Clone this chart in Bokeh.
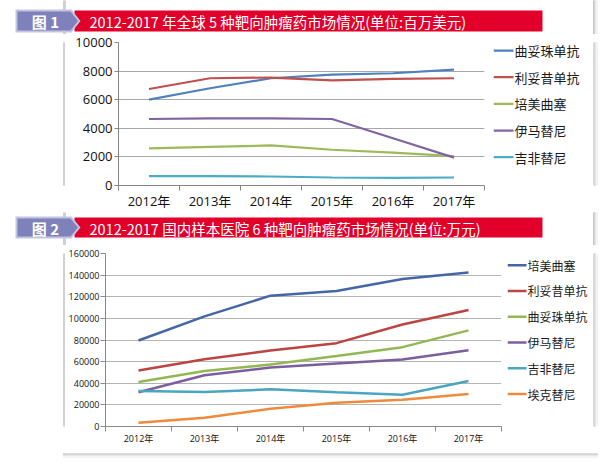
from bokeh.plotting import figure
from bokeh.layouts import column, row
from bokeh.models import Range1d, FixedTicker, NumeralTickFormatter
from bokeh.core.properties import value
from bokeh.embed import file_html
from bokeh.resources import INLINE

# ---------------- data ----------------
years = ["2012年", "2013年", "2014年", "2015年", "2016年", "2017年"]

title1 = "2012-2017 年全球 5 种靶向肿瘤药市场情况(单位:百万美元)"
title2 = "2012-2017 国内样本医院 6 种靶向肿瘤药市场情况(单位:万元)"
badge1 = "图 1"
badge2 = "图 2"

names1 = ["曲妥珠单抗", "利妥昔单抗", "培美曲塞", "伊马替尼", "吉非替尼"]
trastuzumab_1 = [6000, 6800, 7500, 7750, 7850, 8100]
rituximab_1 = [6750, 7500, 7550, 7350, 7450, 7500]
pemetrexed_1 = [2600, 2700, 2800, 2500, 2300, 2050]
imatinib_1 = [4650, 4700, 4700, 4650, 3300, 1950]
gefitinib_1 = [650, 650, 630, 560, 535, 560]
series1 = [trastuzumab_1, rituximab_1, pemetrexed_1, imatinib_1, gefitinib_1]
colors1 = ["#4F81BD", "#C0504D", "#9BBB59", "#8064A2", "#4BACC6"]
y1_ticks = [0, 2000, 4000, 6000, 8000, 10000]

names2 = ["培美曲塞", "利妥昔单抗", "曲妥珠单抗", "伊马替尼", "吉非替尼", "埃克替尼"]
pemetrexed_2 = [79500, 101800, 121000, 125400, 136500, 142400]
rituximab_2 = [51700, 62200, 70300, 77100, 94400, 107700]
trastuzumab_2 = [41200, 51400, 57300, 65300, 73400, 88900]
imatinib_2 = [31600, 47400, 54500, 58200, 61900, 70600]
gefitinib_2 = [32800, 31900, 34400, 31600, 29400, 42100]
icotinib_2 = [3400, 8000, 16400, 22000, 24800, 30000]
series2 = [pemetrexed_2, rituximab_2, trastuzumab_2, imatinib_2, gefitinib_2, icotinib_2]
colors2 = ["#4466A8", "#BA4542", "#93B853", "#7C5E9E", "#4AA5BE", "#EE8A3C"]
y2_ticks = [0, 20000, 40000, 60000, 80000, 100000, 120000, 140000, 160000]

FONT = "Open Sans, Noto Sans CJK SC"
CJK = "Noto Sans CJK SC"
W = 600
EDGE = "#D0D0D0"
SHADOW = ["#C4C4C4", "#D8D8D8", "#E6E6E6", "#F3F3F3"]


def blank(w, h):
    p = figure(width=w, height=h, x_range=Range1d(0, w), y_range=Range1d(h, 0),
               toolbar_location=None, output_backend="svg", min_border=0,
               x_axis_location=None, y_axis_location=None)
    p.outline_line_color = None
    p.grid.visible = False
    return p


def banner(h, top, bot, badge, text):
    p = blank(W, h)
    # panel left edge and right border/shadow
    p.quad(left=63, right=65, top=0, bottom=h, color=EDGE)
    for i, c in enumerate(SHADOW):
        p.quad(left=593 + i, right=594 + i, top=0, bottom=h, color=c)
    # red bar
    p.quad(left=74, right=542, top=top + 1, bottom=bot - 1, color="#E2002B", line_color=None)
    # badge (outer light bevel + inner body)
    mid = (top + bot) / 2
    p.patch(x=[15, 71, 80, 71, 15], y=[top, top, mid, bot, bot], color="#C3C3E2", line_color=None)
    p.patch(x=[17, 70, 77.5, 70, 17], y=[top + 2, top + 2, mid, bot - 2, bot - 2],
            color="#7F81BA", line_color=None)
    p.text(x=[45], y=[mid + 0.5], text=[badge], text_font=value(CJK), text_font_size="15px",
           text_font_style="bold", text_color="white", text_align="center", text_baseline="middle")
    p.text(x=[89], y=[mid + 0.5], text=[text], text_font=value(CJK), text_font_size="14.5px",
           text_color="white", text_align="left", text_baseline="middle")
    return p


def edge_left(h):
    p = blank(65, h)
    p.quad(left=63, right=65, top=0, bottom=h, color=EDGE)
    return p


def edge_right(h):
    p = blank(7, h)
    for i, c in enumerate(SHADOW):
        p.quad(left=i, right=i + 1, top=0, bottom=h, color=c)
    return p


def chart(h, w, bl, br, bt, bb, series, colors, yticks, ymax,
          tick_font, axis_color, grid_color, lw, ytick_out, ystand, xstand):
    xs = [i + 0.5 for i in range(len(years))]
    p = figure(width=w, height=h, x_range=Range1d(0, len(years)), y_range=Range1d(0, ymax),
               toolbar_location=None, output_backend="svg",
               min_border_left=bl, min_border_right=br, min_border_top=bt, min_border_bottom=bb)
    p.outline_line_color = None
    p.xgrid.visible = False
    p.ygrid.grid_line_color = grid_color
    p.ygrid.grid_line_width = 1
    p.ygrid.ticker = FixedTicker(ticks=yticks)

    yax = p.yaxis[0]
    yax.ticker = FixedTicker(ticks=yticks)
    yax.formatter = NumeralTickFormatter(format="0")
    yax.axis_line_color = axis_color
    yax.major_tick_line_color = axis_color
    yax.major_tick_out = ytick_out
    yax.major_tick_in = 0
    yax.minor_tick_line_color = None
    yax.major_label_standoff = ystand
    yax.major_label_text_font = FONT
    yax.major_label_text_font_size = tick_font
    yax.major_label_text_color = "#111111"

    xax = p.xaxis[0]
    xax.ticker = FixedTicker(ticks=xs, minor_ticks=list(range(len(years) + 1)))
    xax.major_label_overrides = {x: lab for x, lab in zip(xs, years)}
    xax.axis_line_color = axis_color
    xax.major_tick_line_color = None
    xax.major_tick_out = 0
    xax.major_tick_in = 0
    xax.minor_tick_line_color = axis_color
    xax.minor_tick_out = 5
    xax.minor_tick_in = 0
    xax.major_label_standoff = xstand
    xax.major_label_text_font = FONT
    xax.major_label_text_font_size = tick_font
    xax.major_label_text_color = "#111111"

    for vals, col in zip(series, colors):
        p.line(xs, vals, line_color=col, line_width=lw)
    return p


def legend_fig(w, h, names, colors, lw, first, pitch, glyph_w, font):
    p = blank(w, h)
    ys = [first + i * pitch for i in range(len(names))]
    p.segment(x0=[0] * len(names), y0=ys, x1=[glyph_w] * len(names), y1=ys,
              line_color=colors, line_width=lw)
    p.text(x=[glyph_w + 1] * len(names), y=ys, text=names, text_font=value(CJK),
           text_font_size=font, text_color="#1A1A1A", text_align="left",
           text_baseline="middle")
    return p


b1 = banner(34, 9, 32, badge1, title1)
p1 = chart(178, 428, 53, 9, 8, 27, series1, colors1, y1_ticks, 10000,
           "13px", "#868686", "#A8A8A8", 2.2, 4, 2, 1)
l1 = legend_fig(100, 178, names1, colors1, 2.2, 10, 33.2, 20, "13px")

b2 = banner(33, 4, 26, badge2, title2)
p2 = chart(208, 442, 40, 6, 8, 27, series2, colors2, y2_ticks, 160000,
           "9px", "#8A8A8A", "#B4B4B4", 2.5, 5, 1, 0)
l2 = legend_fig(86, 208, names2, colors2, 2.5, 14, 31, 19, "12px")

bottom = blank(W, 12)
for i, c in enumerate(SHADOW):
    bottom.quad(left=63, right=597, top=i, bottom=i + 1, color=c)
bottom.quad(left=63, right=65, top=0, bottom=1, color=EDGE)

layout = column(
    b1,
    row(edge_left(178), p1, l1, edge_right(178)),
    b2,
    row(edge_left(208), p2, l2, edge_right(208)),
    bottom,
)

open("out.html", "w").write(file_html(layout, INLINE))
